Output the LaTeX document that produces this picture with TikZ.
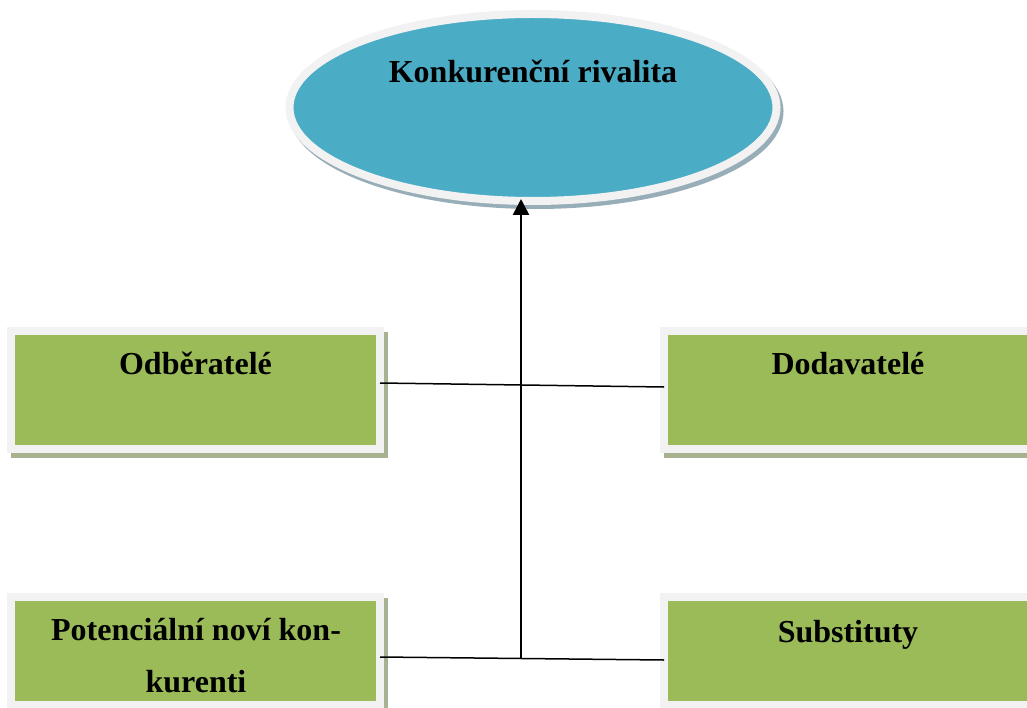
\documentclass[tikz,border=0pt]{standalone}
\usepackage{fontspec}
\setmainfont{Liberation Serif}
\usetikzlibrary{arrows.meta,shapes.geometric,shadows}
\definecolor{ovalblue}{HTML}{4BACC6}
\definecolor{boxgreen}{HTML}{9BBB59}
\definecolor{rim}{HTML}{F2F2F2}
\definecolor{ovalshadow}{HTML}{97ADB7}
\definecolor{boxshadow}{HTML}{A7B291}
\begin{document}
\begin{tikzpicture}[x=1pt,y=-1pt,
  oval/.style={ellipse, fill=ovalblue, draw=rim, line width=8pt,
    minimum width=487pt, minimum height=187pt, inner sep=0pt, outer sep=0pt,
    general shadow={fill=ovalshadow, draw=ovalshadow, line width=8pt,
      shadow xshift=3pt, shadow yshift=-4pt}},
  card/.style={rectangle, fill=boxgreen, draw=rim, line width=8pt,
    inner sep=0pt, outer sep=0pt,
    general shadow={fill=boxshadow, draw=boxshadow, line width=8pt,
      shadow xshift=4pt, shadow yshift=-5pt}},
  label/.style={font=\fontsize{32}{52}\selectfont\bfseries, inner sep=0pt, anchor=base, align=center},
  link/.style={draw=black, line width=1.5pt},
  pointer/.style={draw=black, line width=2.6pt, -{Triangle[width=16pt,length=16pt]}}
]
\clip (0,0) rectangle (1027,708);

% central oval
\node[oval] (ell) at (533,107.5) {};
\node[label] (ellt) at (533,83) {Konkurenční rivalita};

% four forces
\node[card, minimum width=369pt, minimum height=118pt] (odb) at (195.5,390) {};
\node[card, minimum width=368pt, minimum height=118pt] (dod) at (848,390) {};
\node[card, minimum width=369pt, minimum height=108pt] (pot) at (195.5,651) {};
\node[card, minimum width=368pt, minimum height=108pt] (sub) at (848,651) {};

\node[label] (odbt) at (195.5,374) {Odběratelé};
\node[label] (dodt) at (848,374) {Dodavatelé};
\node[label] (pott) at (196,692) {Potenciální noví kon-\\kurenti};
\node[label] (subt) at (848,642) {Substituty};

% connectors
\draw[link] ([yshift=7pt]odb.east) -- ([yshift=3pt]dod.west);
\draw[link] ([yshift=-6pt]pot.east) -- ([yshift=-9pt]sub.west);
\coordinate (j) at (521,659);
\draw[pointer, shorten >=-2pt] (j) -- (j |- ell.south);
\end{tikzpicture}
\end{document}
